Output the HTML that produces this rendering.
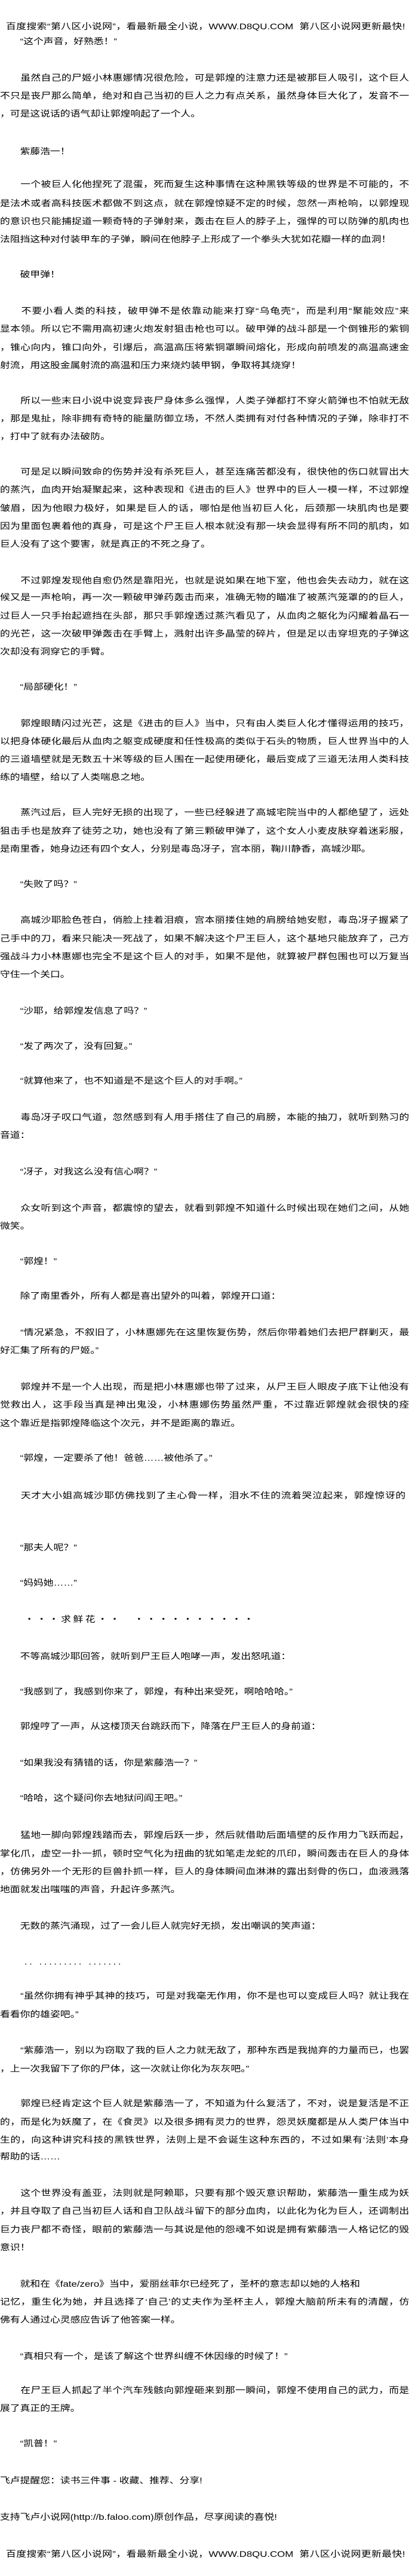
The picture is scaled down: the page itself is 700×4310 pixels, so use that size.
<!DOCTYPE html>
<html lang="zh-CN"><head><meta charset="utf-8">
<style>
html,body{margin:0;padding:0;background:#fff;}
body{width:700px;height:4310px;position:relative;overflow:hidden;color:#000;
font-family:"Liberation Sans","Noto Sans CJK SC","WenQuanYi Zen Hei",sans-serif;}
.l{position:absolute;left:0;height:30px;line-height:30px;font-size:14px;white-space:nowrap;transform:scaleX(1.2);transform-origin:0 0;}
.f{width:571px;white-space:normal;text-align:justify;text-align-last:justify;overflow:hidden;}
.h{left:10px;width:557px;white-space:normal;text-align:justify;text-align-last:justify;overflow:hidden;}
.d{letter-spacing:3px;}
.s{letter-spacing:3px;}
</style></head><body>
<div class="l h" style="top:29px">百度搜索“第八区小说网”，看最新最全小说，WWW.D8QU.COM&nbsp;&nbsp;第八区小说网更新最快!</div>
<div class="l" style="top:54px">　　“这个声音，好熟悉！”</div>
<div class="l f" style="top:115px">　　虽然自己的尸姬小林惠娜情况很危险，可是郭煌的注意力还是被那巨人吸引，这个巨人并</div>
<div class="l f" style="top:145px">不只是丧尸那么简单，绝对和自己当初的巨人之力有点关系，虽然身体巨大化了，发音不一样</div>
<div class="l" style="top:175px">，可是这说话的语气却让郭煌响起了一个人。</div>
<div class="l" style="top:238px">　　紫藤浩一！</div>
<div class="l f" style="top:293px">　　一个被巨人化他捏死了混蛋，死而复生这种事情在这种黑铁等级的世界是不可能的，不管</div>
<div class="l f" style="top:325px">是法术或者高科技医术都做不到这点，就在郭煌惊疑不定的时候，忽然一声枪响，以郭煌现在</div>
<div class="l f" style="top:355px">的意识也只能捕捉道一颗奇特的子弹射来，轰击在巨人的脖子上，强悍的可以防弹的肌肉也无</div>
<div class="l" style="top:385px">法阻挡这种对付装甲车的子弹，瞬间在他脖子上形成了一个拳头大犹如花瓣一样的血洞！</div>
<div class="l" style="top:444px">　　破甲弹！</div>
<div class="l f" style="top:505px">　　不要小看人类的科技，破甲弹不是依靠动能来打穿“乌龟壳”，而是利用“聚能效应”来</div>
<div class="l f" style="top:535px">显本领。所以它不需用高初速火炮发射狙击枪也可以。破甲弹的战斗部是一个倒锥形的紫铜罩</div>
<div class="l f" style="top:566px">，锥心向内，锥口向外，引爆后，高温高压将紫铜罩瞬间熔化，形成向前喷发的高温高速金属</div>
<div class="l" style="top:596px">射流，用这股金属射流的高温和压力来烧灼装甲钢，争取将其烧穿！</div>
<div class="l f" style="top:655px">　　所以一些末日小说中说变异丧尸身体多么强悍，人类子弹都打不穿火箭弹也不怕就无敌了</div>
<div class="l f" style="top:685px">，那是鬼扯，除非拥有奇特的能量防御立场，不然人类拥有对付各种情况的子弹，除非打不中</div>
<div class="l" style="top:715px">，打中了就有办法破防。</div>
<div class="l f" style="top:774px">　　可是足以瞬间致命的伤势并没有杀死巨人，甚至连痛苦都没有，很快他的伤口就冒出大量</div>
<div class="l f" style="top:804px">的蒸汽，血肉开始凝聚起来，这种表现和《进击的巨人》世界中的巨人一模一样，不过郭煌却</div>
<div class="l f" style="top:835px">皱眉，因为他眼力极好，如果是巨人的话，哪怕是他当初巨人化，后颈那一块肌肉也是要害，</div>
<div class="l f" style="top:865px">因为里面包裹着他的真身，可是这个尸王巨人根本就没有那一块会显得有所不同的肌肉，如果</div>
<div class="l" style="top:895px">巨人没有了这个要害，就是真正的不死之身了。</div>
<div class="l f" style="top:956px">　　不过郭煌发现他自愈仍然是靠阳光，也就是说如果在地下室，他也会失去动力，就在这时</div>
<div class="l f" style="top:984px">候又是一声枪响，再一次一颗破甲弹药轰击而来，准确无物的瞄准了被蒸汽笼罩的的巨人，不</div>
<div class="l f" style="top:1015px">过巨人一只手抬起遮挡在头部，那只手郭煌透过蒸汽看见了，从血肉之躯化为闪耀着晶石一样</div>
<div class="l f" style="top:1045px">的光芒，这一次破甲弹轰击在手臂上，溅射出许多晶莹的碎片，但是足以击穿坦克的子弹这一</div>
<div class="l" style="top:1075px">次却没有洞穿它的手臂。</div>
<div class="l" style="top:1134px">　　“局部硬化！”</div>
<div class="l f" style="top:1195px">　　郭煌眼睛闪过光芒，这是《进击的巨人》当中，只有由人类巨人化才懂得运用的技巧，可</div>
<div class="l f" style="top:1225px">以把身体硬化最后从血肉之躯变成硬度和任性极高的类似于石头的物质，巨人世界当中的人类</div>
<div class="l f" style="top:1255px">的三道墙壁就是无数五十米等级的巨人围在一起使用硬化，最后变成了三道无法用人类科技凝</div>
<div class="l" style="top:1285px">练的墙壁，给以了人类喘息之地。</div>
<div class="l f" style="top:1344px">　　蒸汽过后，巨人完好无损的出现了，一些已经躲进了高城宅院当中的人都绝望了，远处的</div>
<div class="l f" style="top:1375px">狙击手也是放弃了徒劳之功，她也没有了第三颗破甲弹了，这个女人小麦皮肤穿着迷彩服，正</div>
<div class="l" style="top:1405px">是南里香，她身边还有四个女人，分别是毒岛冴子，宫本丽，鞠川静香，高城沙耶。</div>
<div class="l" style="top:1464px">　　“失败了吗？”</div>
<div class="l f" style="top:1524px">　　高城沙耶脸色苍白，俏脸上挂着泪痕，宫本丽搂住她的肩膀给她安慰，毒岛冴子握紧了自</div>
<div class="l f" style="top:1555px">己手中的刀，看来只能决一死战了，如果不解决这个尸王巨人，这个基地只能放弃了，己方最</div>
<div class="l f" style="top:1585px">强战斗力小林惠娜也完全不是这个巨人的对手，如果不是他，就算被尸群包围也可以万复当关</div>
<div class="l" style="top:1615px">守住一个关口。</div>
<div class="l" style="top:1676px">　　“沙耶，给郭煌发信息了吗？”</div>
<div class="l" style="top:1735px">　　“发了两次了，没有回复。”</div>
<div class="l" style="top:1793px">　　“就算他来了，也不知道是不是这个巨人的对手啊。”</div>
<div class="l f" style="top:1854px">　　毒岛冴子叹口气道，忽然感到有人用手搭住了自己的肩膀，本能的抽刀，就听到熟习的声</div>
<div class="l" style="top:1884px">音道：</div>
<div class="l" style="top:1945px">　　“冴子，对我这么没有信心啊？”</div>
<div class="l f" style="top:2006px">　　众女听到这个声音，都震惊的望去，就看到郭煌不知道什么时候出现在她们之间，从她们</div>
<div class="l" style="top:2036px">微笑。</div>
<div class="l" style="top:2095px">　　“郭煌！”</div>
<div class="l" style="top:2153px">　　除了南里香外，所有人都是喜出望外的叫着，郭煌开口道：</div>
<div class="l f" style="top:2214px">　　“情况紧急，不叙旧了，小林惠娜先在这里恢复伤势，然后你带着她们去把尸群剿灭，最</div>
<div class="l" style="top:2244px">好汇集了所有的尸姬。”</div>
<div class="l f" style="top:2305px">　　郭煌并不是一个人出现，而是把小林惠娜也带了过来，从尸王巨人眼皮子底下让他没有察</div>
<div class="l f" style="top:2335px">觉救出人，这手段当真是神出鬼没，小林惠娜伤势虽然严重，不过靠近郭煌就会很快的痊愈，</div>
<div class="l" style="top:2366px">这个靠近是指郭煌降临这个次元，并不是距离的靠近。</div>
<div class="l" style="top:2424px">　　“郭煌，一定要杀了他！爸爸……被他杀了。”</div>
<div class="l f" style="top:2487px;width:566px">　　天才大小姐高城沙耶仿佛找到了主心骨一样，泪水不住的流着哭泣起来，郭煌惊讶的道：</div>
<div class="l" style="top:2574px">　　“那夫人呢？”</div>
<div class="l" style="top:2633px">　　“妈妈她……”</div>
<div class="l s" style="top:2694px">　　・・・求鲜花・・　・・・・・・・・・・</div>
<div class="l" style="top:2756px">　　不等高城沙耶回答，就听到尸王巨人咆哮一声，发出怒吼道：</div>
<div class="l" style="top:2815px">　　“我感到了，我感到你来了，郭煌，有种出来受死，啊哈哈哈。”</div>
<div class="l" style="top:2873px">　　郭煌哼了一声，从这楼顶天台跳跃而下，降落在尸王巨人的身前道：</div>
<div class="l" style="top:2934px">　　“如果我没有猜错的话，你是紫藤浩一？”</div>
<div class="l" style="top:2993px">　　“哈哈，这个疑问你去地狱问阎王吧。”</div>
<div class="l f" style="top:3055px">　　猛地一脚向郭煌践踏而去，郭煌后跃一步，然后就借助后面墙壁的反作用力飞跃而起，手</div>
<div class="l f" style="top:3086px">掌化爪，虚空一扑一抓，顿时空气化为扭曲的犹如笔走龙蛇的爪印，瞬间轰击在巨人的身体上</div>
<div class="l f" style="top:3116px">，仿佛另外一个无形的巨兽扑抓一样，巨人的身体瞬间血淋淋的露出刻骨的伤口，血液溅落的</div>
<div class="l" style="top:3146px">地面就发出嗤嗤的声音，升起许多蒸汽。</div>
<div class="l" style="top:3207px">　　无数的蒸汽涌现，过了一会儿巨人就完好无损，发出嘲讽的笑声道：</div>
<div class="l d" style="top:3267px">　　.. ......... .......</div>
<div class="l f" style="top:3324px">　　“虽然你拥有神乎其神的技巧，可是对我毫无作用，你不是也可以变成巨人吗？就让我在</div>
<div class="l" style="top:3355px">看看你的雄姿吧。”</div>
<div class="l f" style="top:3415px">　　“紫藤浩一，别以为窃取了我的巨人之力就无敌了，那种东西是我抛弃的力量而已，也罢</div>
<div class="l" style="top:3446px">，上一次我留下了你的尸体，这一次就让你化为灰灰吧。”</div>
<div class="l f" style="top:3504px">　　郭煌已经肯定这个巨人就是紫藤浩一了，不知道为什么复活了，不对，说是复活是不正确</div>
<div class="l f" style="top:3535px">的，而是化为妖魔了，在《食灵》以及很多拥有灵力的世界，怨灵妖魔都是从人类尸体当中诞</div>
<div class="l f" style="top:3565px">生的，向这种讲究科技的黑铁世界，法则上是不会诞生这种东西的，不过如果有‘法则’本身</div>
<div class="l" style="top:3593px">帮助的话……</div>
<div class="l f" style="top:3654px">　　这个世界没有盖亚，法则就是阿赖耶，只要有那个毁灭意识帮助，紫藤浩一重生成为妖魔</div>
<div class="l f" style="top:3684px">，并且夺取了自己当初巨人话和自卫队战斗留下的部分血肉，以此化为化为巨人，还调制出了</div>
<div class="l f" style="top:3715px">巨力丧尸都不奇怪，眼前的紫藤浩一与其说是他的怨魂不如说是拥有紫藤浩一人格记忆的毁灭</div>
<div class="l" style="top:3745px">意识！</div>
<div class="l" style="top:3806px">　　就和在《fate/zero》当中，爱丽丝菲尔已经死了，圣杯的意志却以她的人格和</div>
<div class="l f" style="top:3836px">记忆，重生化为她，并且选择了‘自己’的丈夫作为圣杯主人，郭煌大脑前所未有的清醒，仿</div>
<div class="l" style="top:3866px">佛有人通过心灵感应告诉了他答案一样。</div>
<div class="l" style="top:3927px">　　“真相只有一个，是该了解这个世界纠缠不休因缘的时候了！”</div>
<div class="l f" style="top:3984px">　　在尸王巨人抓起了半个汽车残骸向郭煌砸来到那一瞬间，郭煌不使用自己的武力，而是施</div>
<div class="l" style="top:4014px">展了真正的王牌。</div>
<div class="l" style="top:4073px">　　“凯普！”</div>
<div class="l" style="top:4135px">飞卢提醒您：读书三件事 - 收藏、推荐、分享!</div>
<div class="l" style="top:4196px">支持飞卢小说网(http://b.faloo.com)原创作品，尽享阅读的喜悦!</div>
<div class="l h" style="top:4258px">百度搜索“第八区小说网”，看最新最全小说，WWW.D8QU.COM&nbsp;&nbsp;第八区小说网更新最快!</div>
</body></html>
